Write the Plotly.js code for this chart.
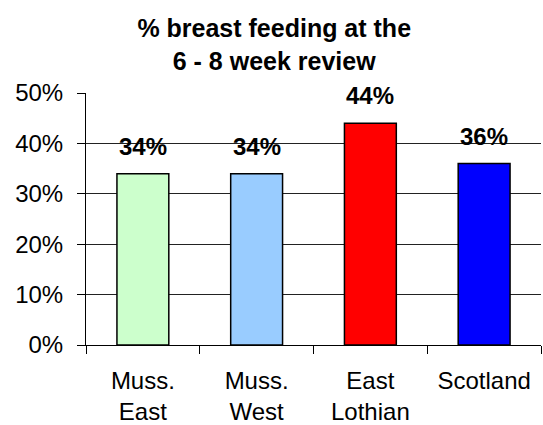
<!DOCTYPE html>
<html>
<head>
<meta charset="utf-8">
<script src="https://cdn.plot.ly/plotly-3.0.1.min.js"></script>
<style>html,body{margin:0;padding:0;background:#fff;}#chart{width:543px;height:425px;}</style>
</head>
<body>
<div id="chart"></div>
<script>
const categories = ["Muss.<br>East", "Muss.<br>West", "East<br>Lothian", "Scotland"];
const values = [0.34, 0.34, 0.44, 0.36];
const barColors = ["#CCFFCC", "#99CCFF", "#FF0000", "#0000FF"];
const valueLabels = ["34%", "34%", "44%", "36%"];
const yTickVals = [0, 0.1, 0.2, 0.3, 0.4, 0.5];
const yTickText = ["0%", "10%", "20%", "30%", "40%", "50%"];

const font = "Arial, 'Liberation Sans', sans-serif";

const trace = {
  type: "bar",
  x: categories,
  y: values,
  marker: { color: barColors, line: { color: "#000", width: 1.5 } },
  hoverinfo: "none"
};

const annotations = categories.map((c, i) => ({
  x: c, y: values[i], xref: "x", yref: "y",
  text: "<b>" + valueLabels[i] + "</b>",
  showarrow: false, yanchor: "bottom", yshift: 12,
  font: { family: font, size: 24, color: "#000" }
}));

const layout = {
  width: 543, height: 425,
  margin: { l: 86, r: 2, t: 93, b: 80 },
  paper_bgcolor: "#fff", plot_bgcolor: "#fff",
  showlegend: false,
  bargap: 0.544,
  font: { family: font, size: 24, color: "#000" },
  title: {
    text: "<b>% breast feeding at the<br>6 - 8 week review</b>",
    font: { family: font, size: 25, color: "#000" },
    x: 0.505, xref: "container", xanchor: "center",
    y: 0.912, yref: "container", yanchor: "top"
  },
  xaxis: {
    type: "category",
    showline: true, linecolor: "#000", linewidth: 1,
    ticks: "outside", tickson: "boundaries", ticklen: 8, tickcolor: "#000", tickwidth: 1,
    ticklabelstandoff: 14,
    tickfont: { family: font, size: 24, color: "#000" },
    showgrid: false, zeroline: false, fixedrange: true
  },
  yaxis: {
    range: [0, 0.5],
    tickvals: yTickVals, ticktext: yTickText,
    showline: true, linecolor: "#000", linewidth: 1,
    ticks: "outside", ticklen: 8, tickcolor: "#000", tickwidth: 1,
    ticklabelstandoff: 9,
    tickfont: { family: font, size: 24, color: "#000" },
    showgrid: true, gridcolor: "#222", gridwidth: 1,
    zeroline: false, fixedrange: true
  },
  annotations: annotations
};

Plotly.newPlot("chart", [trace], layout, { displayModeBar: false, staticPlot: true });
</script>
</body>
</html>
